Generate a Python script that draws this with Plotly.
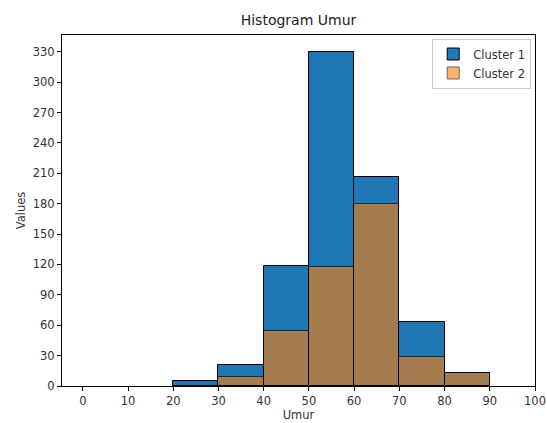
import plotly.graph_objects as go

bin_edges = [0, 10, 20, 30, 40, 50, 60, 70, 80, 90, 100]
cluster1_counts = [0, 0, 5, 21, 118, 330, 206, 63, 13, 0]
cluster2_counts = [0, 0, 0, 9, 54, 117, 180, 29, 13, 0]
y_ticks = list(range(0, 331, 30))
x_ticks = list(range(0, 101, 10))

centers = [(a + b) / 2 for a, b in zip(bin_edges[:-1], bin_edges[1:])]
widths = [b - a for a, b in zip(bin_edges[:-1], bin_edges[1:])]


def nz(vals):
    return [v if v > 0 else None for v in vals]


fig = go.Figure()
fig.add_trace(go.Bar(
    x=centers, y=nz(cluster1_counts), width=widths, name="Cluster 1",
    marker=dict(color="#1f77b4", line=dict(color="black", width=1)),
))
fig.add_trace(go.Bar(
    x=centers, y=nz(cluster2_counts), width=widths, name="Cluster 2",
    marker=dict(color="#ff7f0e", line=dict(color="black", width=1)), opacity=0.6,
))

font = "DejaVu Sans"
fig.update_layout(
    width=547, height=423,
    margin=dict(l=62, r=12, t=35, b=37, autoexpand=False),
    barmode="overlay",
    plot_bgcolor="white", paper_bgcolor="white",
    font=dict(family=font, size=11, color="#333"),
    title=dict(text="Histogram Umur", x=298.5 / 547, xanchor="center",
               y=1 - 20 / 423, yanchor="middle", font=dict(size=14, color="#222")),
    legend=dict(x=0.992, y=0.99, xanchor="right", yanchor="top",
                bgcolor="rgba(255,255,255,0.8)", bordercolor="#ccc", borderwidth=1,
                font=dict(size=11.5), tracegroupgap=0),
    bargap=0,
)
fig.update_xaxes(
    range=[-4.6, 100], tickvals=x_ticks, ticks="outside", ticklen=4, tickcolor="black",
    showline=True, linecolor="black", linewidth=1, mirror=True, showgrid=False,
    zeroline=False, automargin=False, tickfont=dict(size=11.5),
    title=dict(text="Umur", standoff=3, font=dict(size=11.5)),
)
fig.update_yaxes(
    range=[0, 346.5], tickvals=y_ticks, ticks="outside", ticklen=4, tickcolor="black",
    showline=True, linecolor="black", linewidth=1, mirror=True, showgrid=False,
    zeroline=False, automargin=False, tickfont=dict(size=11.5),
    title=dict(text="Values", standoff=4, font=dict(size=11.5)),
)
fig.write_html("out.html", post_script="document.body.style.margin='0';",
               config={"displayModeBar": False})
